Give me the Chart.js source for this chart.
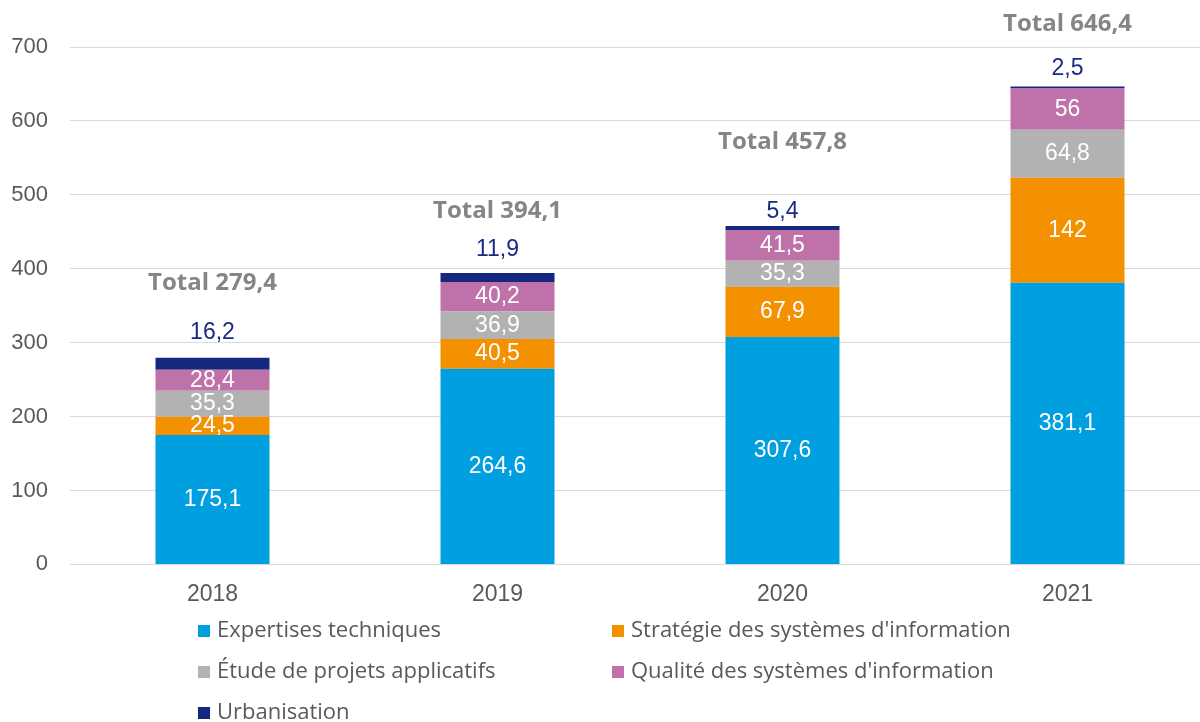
<!DOCTYPE html>
<html>
<head>
<meta charset="utf-8">
<script src="https://cdn.jsdelivr.net/npm/chart.js@4.4.0/dist/chart.umd.min.js"></script>
<style>
    html, body { margin: 0; padding: 0; background: #fff; overflow: hidden; }
    #wrap { width: 1210px; height: 722px; }
</style>
</head>
<body>
<div id="wrap"><canvas id="budgetChart" width="1210" height="722"></canvas></div>
<script>
var years = ["2018", "2019", "2020", "2021"];
var expertises = [175.1, 264.6, 307.6, 381.1];
var strategie = [24.5, 40.5, 67.9, 142];
var etude = [35.3, 36.9, 35.3, 64.8];
var qualite = [28.4, 40.2, 41.5, 56];
var urbanisation = [16.2, 11.9, 5.4, 2.5];
var totals = [279.4, 394.1, 457.8, 646.4];
var yTicks = [0, 100, 200, 300, 400, 500, 600, 700];

function frNum(v) {
    return String(v).replace(".", ",");
}

// labels: white inside the segments, navy above for the last series, gray totals on top
var labelPlugin = {
    id: "labels",
    afterDatasetsDraw: function (chart) {
        var ctx = chart.ctx;
        var y = chart.scales.y;
        var urbOffset = [25, 23, 14, 18];
        var totalOffset = [75, 62, 84, 62];
        ctx.save();
        ctx.textAlign = "center";
        ctx.textBaseline = "middle";
        ctx.font = "23px 'Liberation Sans', Arial, sans-serif";
        chart.data.datasets.forEach(function (ds, i) {
            var meta = chart.getDatasetMeta(i);
            meta.data.forEach(function (bar, j) {
                if (i === 4) {
                    ctx.fillStyle = "#1b2a82";
                    ctx.fillText(frNum(ds.data[j]), bar.x, bar.y - urbOffset[j]);
                } else {
                    ctx.fillStyle = "#ffffff";
                    ctx.fillText(frNum(ds.data[j]), bar.x, (bar.y + bar.base) / 2);
                }
            });
        });
        var top = chart.getDatasetMeta(4).data;
        ctx.fillStyle = "#858585";
        ctx.font = "bold 24px 'Open Sans', sans-serif";
        top.forEach(function (bar, j) {
            ctx.fillText("Total " + frNum(totals[j]), bar.x, y.getPixelForValue(totals[j]) - totalOffset[j]);
        });
        ctx.restore();
    }
};

// legend in two columns below the axis
var legendPlugin = {
    id: "legend2col",
    afterDraw: function (chart) {
        var ctx = chart.ctx;
        var colX = [198, 612];
        var rowY = [631, 672, 713];
        ctx.save();
        ctx.textAlign = "left";
        ctx.textBaseline = "middle";
        ctx.font = "22px 'Open Sans', sans-serif";
        chart.data.datasets.forEach(function (ds, i) {
            var x = colX[i % 2];
            var yy = rowY[Math.floor(i / 2)];
            ctx.fillStyle = ds.backgroundColor;
            ctx.fillRect(x, yy - 6, 12, 12);
            ctx.fillStyle = "#595959";
            ctx.fillText(ds.label, x + 19, yy);
        });
        ctx.restore();
    }
};

var ctx = document.getElementById("budgetChart").getContext("2d");
var budgetChart = new Chart(ctx, {
    type: "bar",
    data: {
        labels: years,
        datasets: [
            { label: "Expertises techniques", data: expertises, backgroundColor: "#009fe0" },
            { label: "Stratégie des systèmes d'information", data: strategie, backgroundColor: "#f39100" },
            { label: "Étude de projets applicatifs", data: etude, backgroundColor: "#b2b2b2" },
            { label: "Qualité des systèmes d'information", data: qualite, backgroundColor: "#bf72aa" },
            { label: "Urbanisation", data: urbanisation, backgroundColor: "#15287f" }
        ]
    },
    options: {
        responsive: false,
        animation: false,
        layout: { padding: { top: 47, bottom: 98, left: 0, right: 0 } },
        datasets: {
            bar: { categoryPercentage: 1, barPercentage: 0.4, borderWidth: 0 }
        },
        plugins: {
            legend: { display: false },
            tooltip: { enabled: false }
        },
        scales: {
            x: {
                stacked: true,
                grid: { display: false, drawTicks: false },
                border: { display: false },
                ticks: {
                    padding: 16,
                    color: "#595959",
                    font: { family: "'Liberation Sans', Arial, sans-serif", size: 23 }
                }
            },
            y: {
                stacked: true,
                min: 0,
                max: 700,
                afterFit: function (scale) { scale.width = 70; },
                afterBuildTicks: function (scale) {
                    scale.ticks = yTicks.map(function (v) { return { value: v }; });
                },
                grid: { color: "#d9d9d9", lineWidth: 1, drawTicks: false },
                border: { display: false },
                ticks: {
                    padding: 22,
                    color: "#595959",
                    font: { family: "'Liberation Sans', Arial, sans-serif", size: 22 }
                }
            }
        }
    },
    plugins: [labelPlugin, legendPlugin]
});
</script>
</body>
</html>
